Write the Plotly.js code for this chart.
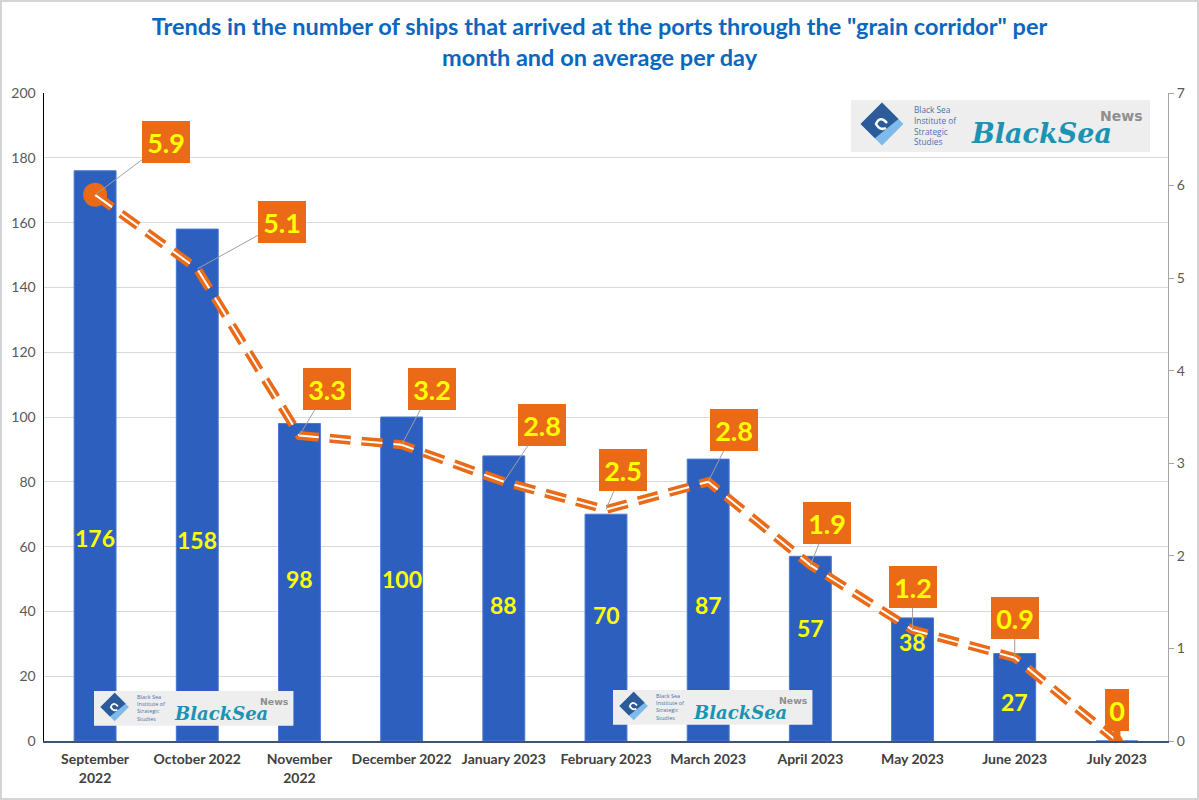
<!DOCTYPE html>
<html>
<head>
<meta charset="utf-8">
<script src="https://cdn.plot.ly/plotly-3.0.1.min.js"></script>
<style>html,body{margin:0;padding:0;background:#fff;}#chart{width:1199px;height:800px;}</style>
</head>
<body>
<div id="chart"></div>
<script>
// ---- Data ----
const months = ["September 2022","October 2022","November 2022","December 2022","January 2023","February 2023","March 2023","April 2023","May 2023","June 2023","July 2023"];
const tickLabels = ["September<br>2022","October 2022","November<br>2022","December 2022","January 2023","February 2023","March 2023","April 2023","May 2023","June 2023","July 2023"];
const shipsPerMonth = [176,158,98,100,88,70,87,57,38,27,0];
const shipsPerDay = [5.9,5.1,3.3,3.2,2.8,2.5,2.8,1.9,1.2,0.9,0];

// ---- Layout geometry ----
const W = 1199, H = 800;
const M = {l:44, r:31, t:93, b:59};
const PW = W - M.l - M.r, PH = H - M.t - M.b;
const px = x => (x - M.l) / PW;
const py = y => (H - M.b - y) / PH;

const ORANGE = '#ea6a17';
const BLUE = '#2d5fbf';
const FONT = 'Lato, "Open Sans", sans-serif';

// bar value label vertical placement (layout, in left-axis units)
const barLabelPos = [62.7,62,50,50,42,39,42,35,30.5,12,null];
// callout offsets in pixels (layout)
const calloutAx = [71,85,28,30,38,17,26,17,0,0,0];
const calloutAy = [-53,-47,-47,-56,-57,-40,-52,-42,-43,-40,-31];

const traces = [
  {
    type:'bar', x: months, y: shipsPerMonth, yaxis:'y',
    marker:{color:BLUE, line:{color:'#4a78cf', width:1}},
    width:0.41, hoverinfo:'skip', showlegend:false
  },
  {
    type:'scatter', mode:'lines+markers', x: months, y: shipsPerDay, yaxis:'y2',
    line:{color:ORANGE, width:9, dash:'21px,11px'},
    marker:{color:ORANGE, opacity:1, size:[24,0,0,0,0,0,0,0,0,0,12], line:{width:0}},
    hoverinfo:'skip', showlegend:false
  },
  {
    type:'scatter', mode:'lines', x: months, y: shipsPerDay, yaxis:'y2',
    line:{color:'#ffffff', width:2, dash:'21px,11px'},
    hoverinfo:'skip', showlegend:false
  }
];

const annotations = [];
const shapes = [];

// bar value labels
months.forEach((m,i)=>{
  if (barLabelPos[i] === null) return;
  annotations.push({
    x:m, y:barLabelPos[i], xref:'x', yref:'y', showarrow:false,
    text:String(shipsPerMonth[i]),
    font:{family:FONT, size:23, color:'#ffff00', weight:700}
  });
});

// per-day callouts
months.forEach((m,i)=>{
  const last = i === months.length-1;
  annotations.push({
    x:m, y:shipsPerDay[i], xref:'x', yref:'y2',
    text:String(shipsPerDay[i]),
    showarrow:true, arrowhead:0, standoff:0,
    arrowcolor: last ? ORANGE : '#a0a0a0', arrowwidth: last ? 7 : 1,
    ax:calloutAx[i], ay:calloutAy[i],
    bgcolor:ORANGE, borderpad:0, borderwidth:0,
    width: last ? 24 : 48, height: 42,
    valign:'middle',
    font:{family:FONT, size:27, color:'#ffff00', weight:700}
  });
});

// logos
function drawLogo(x0, y0, s){
  shapes.push({type:'rect', xref:'paper', yref:'paper', layer:'above',
    x0:px(x0), x1:px(x0+299*s), y0:py(y0), y1:py(y0+52*s),
    fillcolor:'#eeeeee', line:{width:0}});
  const cx = x0+31*s, cy = y0+24*s, r = 20*s;
  const P = (x,y)=> px(x)+','+py(y);
  shapes.push({type:'path', xref:'paper', yref:'paper', layer:'above',
    path:'M'+P(cx-r,cy)+' L'+P(cx,cy-r)+' L'+P(cx+r,cy)+' L'+P(cx,cy+r)+' Z',
    fillcolor:'#7fbbea', line:{color:'#7fbbea', width:2*s}});
  shapes.push({type:'path', xref:'paper', yref:'paper', layer:'above',
    path:'M'+P(cx-r,cy)+' L'+P(cx,cy-r)+' L'+P(cx+r*0.75,cy-r*0.25)+' Q'+P(cx+r*0.2,cy+r*0.2)+' '+P(cx-r*0.35,cy+r*0.65)+' Z',
    fillcolor:'#2c5b9a', line:{color:'#2c5b9a', width:2*s}});
  shapes.push({type:'path', xref:'paper', yref:'paper', layer:'above',
    path:'M'+P(cx+r*0.25,cy-r*0.05)+' Q'+P(cx-r*0.1,cy-r*0.45)+' '+P(cx-r*0.3,cy)+' Q'+P(cx-r*0.1,cy+r*0.35)+' '+P(cx+r*0.2,cy+r*0.2),
    line:{color:'#ffffff', width:2.5*s}});
  annotations.push({xref:'paper', yref:'paper', x:px(x0+61*s), y:py(y0+25*s),
    xanchor:'left', yanchor:'middle', align:'left', showarrow:false,
    text:'Black Sea<br>Institute of<br>Strategic<br>Studies',
    font:{family:'"Open Sans", sans-serif', size:8.3*s, color:'#4d70a8'}});
  annotations.push({xref:'paper', yref:'paper', x:px(x0+190*s), y:py(y0+34*s),
    xanchor:'center', yanchor:'middle', showarrow:false,
    text:'<i>BlackSea</i>',
    font:{family:'"DejaVu Serif", serif', size:27*s, color:'#1b93b3', weight:700}});
  annotations.push({xref:'paper', yref:'paper', x:px(x0+270*s), y:py(y0+16*s),
    xanchor:'center', yanchor:'middle', showarrow:false,
    text:'News',
    font:{family:'"DejaVu Sans", sans-serif', size:14*s, color:'#8f8f8f', weight:700}});
}
drawLogo(851,100,1);
drawLogo(94,691,0.667);
drawLogo(613,690,0.667);

// outer frame
shapes.push({type:'rect', xref:'paper', yref:'paper', layer:'above',
  x0:px(1), x1:px(W-1), y0:py(1), y1:py(H-1),
  line:{color:'#d4d4d4', width:2}, fillcolor:'rgba(0,0,0,0)'});

const layout = {
  width:W, height:H,
  margin:M,
  paper_bgcolor:'#ffffff', plot_bgcolor:'#ffffff',
  font:{family:FONT},
  title:{
    text:'Trends in the number of ships that arrived at the ports through the "grain corridor" per<br>month and on average per day',
    font:{family:FONT, size:23.5, color:'#0a67c0', weight:700},
    x:0.5, xanchor:'center', xref:'container', y:1-35/800, yanchor:'middle', yref:'container'
  },
  bargap:0.59,
  xaxis:{
    type:'category', tickvals:months, ticktext:tickLabels,
    range:[-0.5, months.length-0.5], autorange:false,
    tickangle:0, ticklabelstandoff:5,
    tickfont:{family:FONT, size:14, color:'#404040', weight:700},
    showline:true, linecolor:'#3f5375', linewidth:1.5,
    ticks:'', showgrid:false, fixedrange:true
  },
  yaxis:{
    range:[0,200], dtick:20, tick0:0,
    gridcolor:'#d9d9d9', gridwidth:1,
    showline:true, linecolor:'#000000', linewidth:1.5,
    zeroline:false, ticks:'', ticklabelstandoff:4,
    tickfont:{family:FONT, size:14, color:'#595959'}
  },
  yaxis2:{
    range:[0,7], dtick:1, tick0:0, overlaying:'y', side:'right',
    showgrid:false, zeroline:false,
    showline:true, linecolor:'#a6a6a6', linewidth:1,
    ticks:'outside', ticklen:5, tickcolor:'#a6a6a6',
    tickfont:{family:FONT, size:14, color:'#595959'}
  },
  annotations:annotations,
  shapes:shapes
};

Plotly.newPlot('chart', traces, layout, {displayModeBar:false, staticPlot:true});
</script>
</body>
</html>
